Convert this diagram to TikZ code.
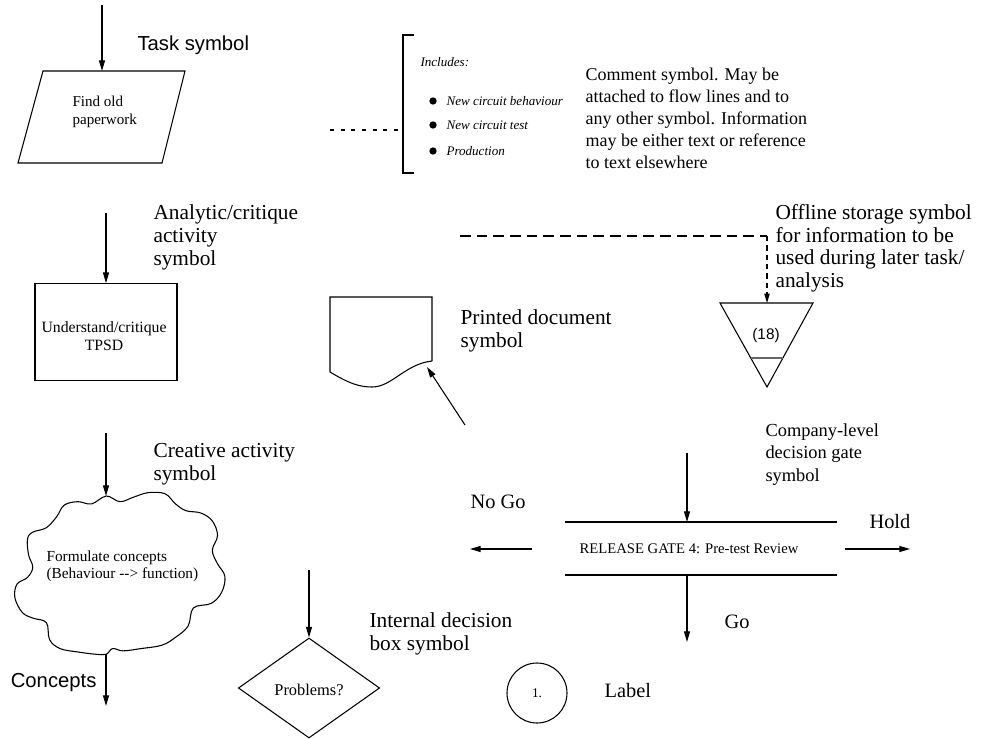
\documentclass[tikz,border=0pt]{standalone}
\usepackage{fontspec}
\setmainfont{Liberation Serif}
\newfontfamily\labelsans{Liberation Sans}
\usetikzlibrary{arrows.meta,shapes.geometric}

\begin{document}
\begin{tikzpicture}[x=0.75pt,y=-0.75pt,
  line width=0.8pt,
  flow/.style={-{Triangle[length=8pt,width=4.5pt]}},
  note/.style={font=\fontsize{13.5}{16.5}\selectfont, align=left, inner sep=0pt, anchor=north west},
  bignote/.style={font=\fontsize{16}{17.3}\selectfont, align=left, inner sep=0pt, anchor=north west},
  word/.style={font=\fontsize{15.3}{17}\selectfont, inner sep=0pt, anchor=west},
  sanslabel/.style={font=\labelsans\fontsize{15.2}{17}\selectfont, inner sep=0pt},
  boxtext/.style={font=\fontsize{11.8}{13}\selectfont, inner sep=0pt, align=center},
  itemtext/.style={font=\itshape\fontsize{9.8}{11}\selectfont, inner sep=0pt, anchor=west},
  bullet/.style={circle, fill=black, inner sep=0pt, minimum size=5.5pt},
]
\useasboundingbox (0,0) rectangle (1001,739);

% ---------- task symbol ----------
\coordinate (taskin) at (102,5);
\coordinate (tasktop) at (102,71);
\draw (43,71) -- (185,71) -- (162,163) -- (18,163) -- cycle;
\node[boxtext, font=\fontsize{11.3}{14}\selectfont, align=left, anchor=west] (tasktext) at (72,112) {Find old\\paperwork};
\draw[flow] (taskin) -- (tasktop);
\node[sanslabel, anchor=west] (tasklabel) at (137,45) {Task symbol};

% ---------- comment symbol ----------
\coordinate (dotstart) at (330,130);
\coordinate (dotend) at (400,130);
\draw[dash pattern=on 3pt off 5pt] (dotstart) -- (dotend);
\draw (414,35) -- (403,35) -- (403,173) -- (414,173);
\node[itemtext] (includes) at (420,62) {Includes:};
\node[bullet] (b1) at (433,101) {};
\node[bullet] (b2) at (433,125) {};
\node[bullet] (b3) at (433,151) {};
\node[itemtext] (i1) at (446,101) {New circuit behaviour};
\node[itemtext] (i2) at (446,125) {New circuit test};
\node[itemtext] (i3) at (446,151) {Production};
\node[note] (commenttext) at (585,67) {Comment symbol. May be\\attached to flow lines and to\\any other symbol. Information\\may be either text or reference\\to text elsewhere};

% ---------- analytic / critique activity ----------
\node[draw, minimum width=106.5pt, minimum height=72.5pt, inner sep=0pt] (tpsd) at (106,332) {};
\node[boxtext] (tpsdtext) at (104,336) {Understand/critique\\TPSD};
\coordinate (tpsdin) at (106,213);
\draw[flow] (tpsdin) -- (tpsd.north);
\node[bignote] (analytic) at (153,204) {Analytic/critique\\activity\\symbol};

% ---------- offline storage ----------
\coordinate (storeA) at (720,303);
\coordinate (storeB) at (813,303);
\coordinate (storeC) at (767,387);
\coordinate (storetop) at (767,303);
\draw (storeA) -- (storeB) -- (storeC) -- cycle;
\draw[line width=1.6pt, gray!80!black] (750.5,358) -- (783,358);
\node[font=\labelsans\fontsize{11.5}{13}\selectfont, inner sep=0pt] (store18) at (766,336) {(18)};
\coordinate (dashstart) at (460,236);
\coordinate (dashcorner) at (767,236);
\draw[dash pattern=on 8pt off 4.5pt] (dashstart) -- (dashcorner);
\draw[dash pattern=on 4pt off 3pt, -{Triangle[length=7pt,width=4pt]}] (dashcorner) -- (storetop);
\node[bignote, font=\fontsize{16}{17}\selectfont] (offline) at (775,204) {Offline storage symbol\\for information to be\\used during later task/\\analysis};

% ---------- printed document ----------
\draw (432,361) -- (432,297) -- (330,297) -- (330,372)
      .. controls (350,384) and (360,387) .. (372,387)
      .. controls (392,387) and (405,364) .. (432,361);
\coordinate (docfrom) at (465,425);
\coordinate (docedge) at (427,367);
\draw[flow] (docfrom) -- (docedge);
\node[bignote] (printed) at (460,309) {Printed document\\symbol};

% ---------- creative activity ----------
\begin{scope}[shift={(122,574)}, xscale=1.05, yscale=1.13, shift={(-122,-574)}]
\draw plot[smooth cycle, tension=0.6] coordinates {
  (107,505) (120,510) (133,506) (147,502) (163,503) (173,512) (183,518)
  (197,520) (208,527) (213,540) (208,553) (213,565) (220,576) (217,590)
  (207,600) (190,604) (185,620) (173,630) (160,637) (140,640) (123,642)
  (113,640) (107,645) (97,645) (80,643) (63,640) (53,632) (50,617)
  (37,613) (27,608) (20,595) (22,583) (32,577) (37,568) (33,557)
  (32,543) (37,537) (50,533) (60,523) (67,513) (80,510) (93,512)};
\end{scope}
\node[boxtext, font=\fontsize{11.5}{13}\selectfont, align=left, anchor=north west] (cloudtext) at (46,550)
  {Formulate concepts\\(Behaviour {-}{-}> function)};
\coordinate (cloudin) at (106,433);
\coordinate (cloudtop) at (106,496);
\coordinate (cloudbottom) at (106,654);
\coordinate (cloudout) at (106,706);
\draw[flow] (cloudin) -- (cloudtop);
\draw[flow] (cloudbottom) -- (cloudout);
\node[sanslabel, anchor=east] (concepts) at (97,683) {Concepts};
\node[bignote] (creative) at (153,443) {Creative activity\\symbol};

% ---------- internal decision ----------
\node[draw, diamond, minimum width=106pt, minimum height=75pt, inner sep=0pt] (problems) at (309,688) {};
\node[font=\fontsize{12.3}{14}\selectfont, inner sep=0pt] (problemstext) at (309,690) {Problems?};
\coordinate (problemsin) at (309,570);
\draw[flow] (problemsin) -- (problems.north);
\node[bignote] (internal) at (369,612) {Internal decision\\box symbol};

% ---------- label ----------
\node[draw, circle, minimum size=45pt, inner sep=0pt, font=\fontsize{10}{11}\selectfont] (label1) at (537,693) {1.};
\node[word] (labeltext) at (604,691) {Label};

% ---------- company-level decision gate ----------
\coordinate (gateTL) at (565,522);
\coordinate (gateTR) at (837,522);
\coordinate (gateBL) at (565,575);
\coordinate (gateBR) at (837,575);
\draw (gateTL) -- (gateTR);
\draw (gateBL) -- (gateBR);
\node[font=\fontsize{11}{13}\selectfont, inner sep=0pt] (gatetext) at (689,549) {RELEASE GATE 4: Pre-test Review};
\coordinate (gatein) at (687,453);
\coordinate (gatetop) at (687,522);
\coordinate (gatebottom) at (687,575);
\coordinate (gatego) at (687,642);
\draw[flow] (gatein) -- (gatetop);
\draw[flow] (gatebottom) -- (gatego);
\coordinate (nogofrom) at (532,549);
\coordinate (nogoto) at (470,549);
\draw[flow] (nogofrom) -- (nogoto);
\coordinate (holdfrom) at (845,549);
\coordinate (holdto) at (910,549);
\draw[flow] (holdfrom) -- (holdto);
\node[word] (nogo) at (470,502) {No Go};
\node[word] (hold) at (869,522) {Hold};
\node[word] (go) at (724,622) {Go};
\node[note, font=\fontsize{13.8}{16.8}\selectfont] (company) at (765,423) {Company-level\\decision gate\\symbol};
\end{tikzpicture}
\end{document}
